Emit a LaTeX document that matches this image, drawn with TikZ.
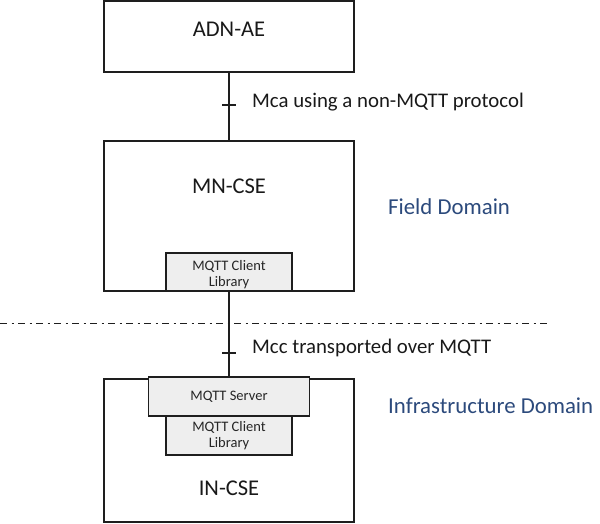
\documentclass[tikz,border=0pt]{standalone}
\usepackage{fontspec}
\setmainfont{Carlito}
\definecolor{linec}{HTML}{1E1E1E}
\definecolor{graybox}{HTML}{EEEEEE}
\definecolor{domblue}{HTML}{2C4A7C}
\tikzset{
  bigbox/.style={draw=linec, line width=1.2pt, fill=white, inner sep=0pt, minimum width=250pt},
  smallbox/.style={draw=linec, line width=1.2pt, fill=graybox, inner sep=0pt},
  bigtext/.style={anchor=base, inner sep=0pt, font=\fontsize{22.5}{27}\selectfont, text=black!90},
  smalltext/.style={anchor=base, inner sep=0pt, font=\fontsize{14.5}{17}\selectfont, text=black!85},
  reftext/.style={anchor=base west, inner sep=0pt, font=\fontsize{20.8}{24}\selectfont, text=black!90},
  domtext/.style={anchor=base west, inner sep=0pt, font=\fontsize{22.8}{27}\selectfont, text=domblue},
  conn/.style={draw=linec, line width=1.2pt},
  tick/.style={draw=linec, line width=1.2pt},
  domline/.style={draw=linec, line width=1.4pt, dash pattern=on 7pt off 4.5pt on 2pt off 4.5pt}
}
\begin{document}
\begin{tikzpicture}[x=1pt,y=-1pt]
\useasboundingbox (0,0) rectangle (600,523);
% boxes
\node[bigbox, minimum height=71pt] (adn) at (229,36.5) {};
\node[bigbox, minimum height=150pt] (mn) at (229,216) {};
\node[smallbox, minimum width=126pt, minimum height=38pt] (mnlib) at (229,272) {};
\node[bigbox, minimum height=143pt] (in) at (229,450.5) {};
\node[smallbox, minimum width=126pt, minimum height=39pt] (inlib) at (229,435.5) {};
\node[smallbox, minimum width=161pt, minimum height=39pt] (srv) at (229,396.5) {};
% texts
\node[bigtext] (adnt) at (229,36) {ADN-AE};
\node[bigtext] (mnt) at (229,193) {MN-CSE};
\node[bigtext] (int) at (229,495) {IN-CSE};
\node[smalltext] (mnlibA) at (229,270) {MQTT Client};
\node[smalltext] (mnlibB) at (229,286.7) {Library};
\node[smalltext] (srvt) at (229,400.7) {MQTT Server};
\node[smalltext] (inlibA) at (229,431) {MQTT Client};
\node[smalltext] (inlibB) at (229,447.5) {Library};
% connectors
\draw[conn] (adn.south) -- (mn.north);
\draw[conn] (mnlib.south) -- (srv.north);
\coordinate (tk1) at (229,105);
\coordinate (tk2) at (229,353);
\draw[tick] ([xshift=-7pt]tk1) -- ([xshift=7pt]tk1);
\draw[tick] ([xshift=-7pt]tk2) -- ([xshift=7pt]tk2);
\node[reftext] (mca) at (252,107.3) {Mca using a non-MQTT protocol};
\node[reftext] (mcc) at (252,353) {Mcc transported over MQTT};
% domain separator
\coordinate (dl) at (0,323.3);
\coordinate (dr) at (550,323.3);
\draw[domline] (dl) -- (dr);
\node[domtext] (fd) at (388,214) {Field Domain};
\node[domtext] (idom) at (388,413) {Infrastructure Domain};
\end{tikzpicture}
\end{document}
